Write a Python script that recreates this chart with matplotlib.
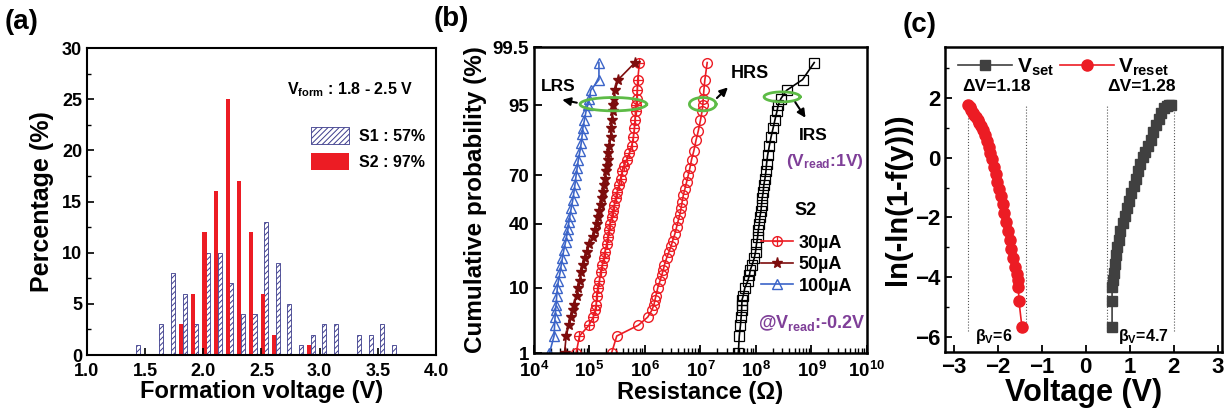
import numpy as np
import matplotlib
matplotlib.use('Agg')
import matplotlib.pyplot as plt
from matplotlib.ticker import MultipleLocator, FixedLocator, LogLocator, NullFormatter
from matplotlib.legend_handler import HandlerTuple
from statistics import NormalDist

plt.rcParams['font.family'] = ['Liberation Sans', 'DejaVu Sans']
plt.rcParams['font.weight'] = 'bold'
plt.rcParams['axes.labelweight'] = 'bold'
plt.rcParams['mathtext.fontset'] = 'custom'
plt.rcParams['mathtext.rm'] = 'Liberation Sans:bold'
plt.rcParams['mathtext.it'] = 'Liberation Sans:bold'
plt.rcParams['mathtext.bf'] = 'Liberation Sans:bold'
plt.rcParams['mathtext.default'] = 'rm'
plt.rcParams['hatch.linewidth'] = 0.7
plt.rcParams['xtick.direction'] = 'in'
plt.rcParams['ytick.direction'] = 'in'

RED = '#ec1c24'
NAVY = '#3c3c8c'
DARKRED = '#7d0c0c'
BLUE = '#3b64c8'
GRAY = '#404040'
GREEN = '#5dbb46'
PURPLE = '#7f3f98'

# ---- (a) 形成电压分布 ----
s1_v = [1.44, 1.64, 1.74, 1.84, 1.94, 2.04, 2.14, 2.24, 2.34, 2.44, 2.54, 2.64, 2.74,
        2.84, 2.94, 3.04, 3.14, 3.34, 3.44, 3.54, 3.64]
s1_pct = [1, 3, 8, 6, 3, 10, 10, 7, 4, 4, 13, 9, 5, 1, 2, 3, 3, 2, 2, 3, 1]
s2_v = [1.81, 1.91, 2.01, 2.11, 2.21, 2.31, 2.41, 2.51, 2.61, 2.91]
s2_pct = [3, 6, 12, 16, 25, 17, 12, 6, 2, 1]

# ---- (b) 累积概率 ----
p_100 = [1, 2, 3, 4, 5, 6, 8, 10, 12, 15, 18, 21, 25, 29, 33, 37, 41, 45, 50, 55, 60,
         65, 70, 74, 78, 82, 85, 88, 90, 92, 94, 95, 96, 97, 98, 99]
r_100 = [1.9e4, 2.3e4, 2.35e4, 2.4e4, 2.45e4, 2.5e4, 2.57e4, 2.63e4, 2.75e4, 2.95e4, 3.1e4,
         3.25e4, 3.45e4, 3.7e4, 3.9e4, 4.1e4, 4.25e4, 4.45e4, 4.7e4, 5.0e4, 5.25e4, 5.5e4,
         5.75e4, 6.0e4, 6.3e4, 6.75e4, 7.1e4, 7.4e4, 7.6e4, 8.1e4, 8.7e4, 9.3e4, 1.0e5,
         1.05e5, 1.48e5, 1.48e5]

p_50 = [1, 2, 3, 4, 5, 6, 8, 10, 12, 15, 18, 21, 24, 28, 32, 36, 40, 44, 48, 52, 56, 60,
        64, 68, 72, 75, 78, 81, 84, 87, 90, 92, 94, 95, 96, 97, 98, 99]
r_50 = [3.55e4, 3.8e4, 4.25e4, 4.7e4, 5.0e4, 5.25e4, 5.9e4, 6.3e4, 6.75e4, 7.1e4, 7.75e4,
        8.3e4, 8.9e4, 1.0e5, 1.15e5, 1.26e5, 1.35e5, 1.45e5, 1.51e5, 1.58e5, 1.66e5, 1.74e5,
        1.82e5, 1.9e5, 2.0e5, 2.04e5, 2.14e5, 2.19e5, 2.29e5, 2.4e5, 2.45e5, 2.51e5, 2.63e5,
        2.69e5, 2.75e5, 2.88e5, 3.3e5, 6.6e5]

p_30 = [1, 2, 3, 4, 5, 6, 8, 10, 12, 15, 18, 21, 24, 28, 32, 36, 40, 44, 48, 52, 56, 60,
        64, 68, 72, 75, 78, 81, 84, 87, 90, 92, 94, 95, 96, 97, 98, 99]
r_30 = [5.75e4, 6.6e4, 9.8e4, 1.17e5, 1.26e5, 1.32e5, 1.35e5, 1.41e5, 1.51e5, 1.58e5, 1.7e5,
        1.82e5, 1.9e5, 2.04e5, 2.14e5, 2.24e5, 2.34e5, 2.51e5, 2.63e5, 2.82e5, 2.95e5, 3.16e5,
        3.39e5, 3.63e5, 3.89e5, 4.17e5, 4.68e5, 5.25e5, 5.75e5, 6.17e5, 6.46e5, 6.6e5, 6.76e5,
        6.9e5, 7.1e5, 7.25e5, 7.4e5, 7.95e5]

p_hrs = [1, 2, 3, 4, 5, 6, 7, 8, 10, 12, 14, 16, 18, 21, 24, 27, 30, 34, 38, 42, 46, 50,
         54, 58, 62, 66, 70, 74, 78, 82, 86, 89, 92, 94, 95, 96, 97, 98, 99]
r_hrs = [2.5e5, 3.1e5, 7.6e5, 1.12e6, 1.32e6, 1.45e6, 1.51e6, 1.58e6, 1.7e6, 1.86e6, 2.0e6,
         2.14e6, 2.24e6, 2.45e6, 2.7e6, 2.95e6, 3.16e6, 3.47e6, 3.72e6, 3.98e6, 4.27e6,
         4.47e6, 4.68e6, 4.9e6, 5.25e6, 5.62e6, 6.03e6, 6.46e6, 6.9e6, 7.6e6, 8.3e6, 9.1e6,
         1.0e7, 1.07e7, 1.1e7, 1.12e7, 1.15e7, 1.2e7, 1.32e7]

p_irs = [1, 2, 3, 4, 5, 6, 7, 8, 10, 12, 14, 16, 18, 21, 24, 28, 32, 36, 40, 44, 48, 52,
         56, 60, 64, 68, 72, 76, 80, 84, 87, 90, 92, 94, 95, 96, 97, 98, 99]
r_irs = [4.8e7, 5.0e7, 5.25e7, 5.4e7, 5.5e7, 5.55e7, 5.6e7, 5.9e7, 6.3e7, 7.1e7, 7.6e7,
         7.9e7, 8.5e7, 9.3e7, 9.8e7, 1.02e8, 1.07e8, 1.1e8, 1.15e8, 1.17e8, 1.23e8, 1.26e8,
         1.29e8, 1.35e8, 1.38e8, 1.45e8, 1.51e8, 1.55e8, 1.62e8, 1.74e8, 1.86e8, 2.04e8,
         2.19e8, 2.4e8, 2.51e8, 2.82e8, 3.55e8, 6.9e8, 1.12e9]

prob_ticks = [1, 10, 40, 70, 95, 99.5]

# ---- (c) Weibull ----
reset_v = [-2.68, -2.64, -2.60, -2.57, -2.53, -2.50, -2.46, -2.42, -2.38, -2.33, -2.29,
           -2.25, -2.21, -2.17, -2.13, -2.09, -2.05, -2.01, -1.97, -1.93, -1.89, -1.85,
           -1.81, -1.77, -1.73, -1.69, -1.65, -1.61, -1.57, -1.55, -1.53, -1.52, -1.45]
reset_w = [1.76, 1.70, 1.60, 1.50, 1.42, 1.35, 1.25, 1.15, 1.05, 0.92, 0.75, 0.55, 0.35,
           0.15, -0.05, -0.30, -0.55, -0.80, -1.05, -1.30, -1.55, -1.85, -2.15, -2.45,
           -2.75, -3.05, -3.35, -3.65, -3.90, -4.10, -4.33, -4.78, -5.67]
set_v = [0.60, 0.60, 0.60, 0.62, 0.64, 0.66, 0.69, 0.72, 0.75, 0.79, 0.84, 0.89, 0.94,
         0.99, 1.04, 1.09, 1.14, 1.19, 1.24, 1.30, 1.36, 1.42, 1.48, 1.54, 1.60, 1.66,
         1.72, 1.78, 1.84, 1.90, 1.94]
set_w = [-5.67, -4.78, -4.33, -4.10, -3.85, -3.55, -3.25, -3.00, -2.75, -2.45, -2.20,
         -1.95, -1.70, -1.45, -1.20, -0.95, -0.70, -0.45, -0.20, 0.02, 0.20, 0.40, 0.60,
         0.85, 1.10, 1.30, 1.50, 1.65, 1.74, 1.76, 1.76]
reset_bounds = [-2.68, -1.36]
set_bounds = [0.48, 2.0]

fig = plt.figure(figsize=(12.27, 4.16), dpi=100)

# ================= (a) =================
ax1 = fig.add_axes([0.0709, 0.1466, 0.2844, 0.738])
ax1.bar(s1_v, s1_pct, width=0.035, facecolor='white', edgecolor=NAVY, hatch='//////',
        linewidth=0.6, label='S1 : 57%')
ax1.bar(s2_v, s2_pct, width=0.035, color=RED, label='S2 : 97%')
ax1.set_xlim(1.0, 4.0)
ax1.set_ylim(0, 30)
ax1.xaxis.set_major_locator(MultipleLocator(0.5))
ax1.yaxis.set_major_locator(MultipleLocator(5))
ax1.yaxis.set_minor_locator(MultipleLocator(2.5))
ax1.tick_params(labelsize=13, length=5, width=1.2)
ax1.tick_params(axis='x', pad=6)
ax1.tick_params(which='minor', length=3, width=1)
ax1.set_xlabel('Formation voltage (V)', fontsize=17, labelpad=0)
ax1.set_ylabel('Percentage (%)', fontsize=18, labelpad=6)
for s in ax1.spines.values():
    s.set_linewidth(1.5)
ax1.text(0.573, 0.863, 'V$_{form}$ : 1.8 - 2.5 V', transform=ax1.transAxes,
         fontsize=11.5, va='center')
ax1.legend(loc='upper left', bbox_to_anchor=(0.6, 0.79), frameon=False, fontsize=11.5,
           handlelength=2.4, handleheight=1.3, handletextpad=0.6, labelspacing=0.55)

# ================= (b) =================
nd = NormalDist()


def prob_fwd(p):
    p = np.clip(np.asarray(p, dtype=float) / 100.0, 1e-6, 1 - 1e-6)
    return np.vectorize(nd.inv_cdf, otypes=[float])(p)


def prob_inv(z):
    return np.vectorize(nd.cdf, otypes=[float])(np.asarray(z, dtype=float)) * 100.0


ax2 = fig.add_axes([0.4352, 0.1514, 0.2714, 0.7356])
ax2.set_xscale('log')
ax2.set_yscale('function', functions=(prob_fwd, prob_inv))
ax2.plot(r_hrs, p_hrs, '-o', color=RED, mfc='none', ms=7, mew=1.0, lw=1.2)
l30o, = ax2.plot(r_30, p_30, '-o', color=RED, mfc='none', ms=7, mew=1.0, lw=1.2)
l30p, = ax2.plot(r_30, p_30, '+', color=RED, ms=7, mew=0.9, ls='none')
l50, = ax2.plot(r_50, p_50, '-*', color=DARKRED, mfc=DARKRED, ms=8, lw=1.2)
l100, = ax2.plot(r_100, p_100, '-^', color=BLUE, mfc='none', ms=7, mew=1.0, lw=1.2)
ax2.plot(r_irs, p_irs, '-s', color='black', mfc='none', ms=6.5, mew=0.9, lw=1.2)

# 绿色椭圆 (log R, z 空间里画)
t = np.linspace(0, 2 * np.pi, 200)
for cx, cz, a, b in [(5.43, 1.66, 0.60, 0.107), (7.04, 1.66, 0.24, 0.107),
                     (8.47, 1.777, 0.325, 0.08)]:
    ax2.plot(10 ** (cx + a * np.cos(t)), prob_inv(cz + b * np.sin(t)), color=GREEN, lw=2)

arrow = dict(arrowstyle='-|>', color='black', lw=1.5, mutation_scale=12)
ax2.annotate('', xy=(10 ** 4.46, 95.9), xytext=(10 ** 4.82, 95.3), arrowprops=arrow)
ax2.annotate('', xy=(10 ** 7.53, 97.5), xytext=(10 ** 7.26, 95.8), arrowprops=arrow)
ax2.annotate('', xy=(10 ** 8.92, 92.0), xytext=(10 ** 8.68, 95.8), arrowprops=arrow)
ax2.text(10 ** 4.43, 97.4, 'LRS', fontsize=12.5, ha='center', va='center')
ax2.text(10 ** 7.89, 98.4, 'HRS', fontsize=13, ha='center', va='center')
ax2.text(10 ** 9.04, 87.8, 'IRS', fontsize=12.5, ha='center', va='center')
ax2.text(0.99, 0.625, '(V$_{read}$:1V)', transform=ax2.transAxes, fontsize=12.5,
         color=PURPLE, ha='right', va='center')
ax2.text(0.815, 0.465, 'S2', transform=ax2.transAxes, fontsize=13, ha='center', va='center')
ax2.text(0.995, 0.098, '@V$_{read}$:-0.2V', transform=ax2.transAxes, fontsize=13,
         color=PURPLE, ha='right', va='center')
ax2.legend([(l30o, l30p), l50, l100], ['30\u00b5A', '50\u00b5A', '100\u00b5A'],
           handler_map={tuple: HandlerTuple(ndivide=1)}, loc='upper left',
           bbox_to_anchor=(0.66, 0.41), frameon=False, fontsize=13, handlelength=1.8,
           handletextpad=0.3, labelspacing=0.25, borderaxespad=0)

ax2.set_xlim(1e4, 1e10)
ax2.set_ylim(1, 99.5)
ax2.xaxis.set_major_locator(LogLocator(base=10, numticks=10))
ax2.xaxis.set_minor_locator(LogLocator(base=10, subs=np.arange(2, 10), numticks=20))
ax2.xaxis.set_minor_formatter(NullFormatter())
ax2.yaxis.set_major_locator(FixedLocator(prob_ticks))
ax2.set_yticklabels([f'{v:g}' for v in prob_ticks])
ax2.yaxis.set_minor_locator(FixedLocator([]))
ax2.tick_params(labelsize=13.5, length=6, width=1.3)
ax2.tick_params(axis='x', pad=6)
ax2.tick_params(which='minor', length=3.5, width=1)
ax2.set_xlabel('Resistance (\u03a9)', fontsize=17, labelpad=0)
ax2.set_ylabel('Cumulative probability (%)', fontsize=17.5, labelpad=4)
for s in ax2.spines.values():
    s.set_linewidth(1.8)

# ================= (c) =================
ax3 = fig.add_axes([0.7702, 0.154, 0.2257, 0.733])
for xv in reset_bounds + set_bounds:
    ax3.axvline(xv, ymin=0.07, ymax=0.81, color='#555555', ls=':', lw=0.8)
ls_, = ax3.plot(set_v, set_w, '-s', color=GRAY, ms=7.5, lw=1.2)
lr_, = ax3.plot(reset_v, reset_w, '-o', color=RED, ms=8, lw=1.2)
ax3.set_xlim(-3.2, 3.1)
ax3.set_ylim(-6.5, 3.7)
ax3.xaxis.set_major_locator(MultipleLocator(1))
ax3.yaxis.set_major_locator(MultipleLocator(2))
ax3.yaxis.set_minor_locator(MultipleLocator(1))
ax3.tick_params(labelsize=16, length=5, width=1.3)
ax3.tick_params(which='minor', length=3, width=1)
ax3.set_xlabel('Voltage (V)', fontsize=22, labelpad=0)
ax3.set_ylabel('ln(-ln(1-f(y)))', fontsize=21, labelpad=2)
for s in ax3.spines.values():
    s.set_linewidth(1.8)
ax3.text(-2.04, 2.39, '\u0394V=1.18', fontsize=12.5, ha='center', va='center')
ax3.text(1.26, 2.39, '\u0394V=1.28', fontsize=12.5, ha='center', va='center')
ax3.text(-2.08, -6.0, '\u03b2$_V$=6', fontsize=11.5, ha='center', va='center')
ax3.text(1.3, -6.0, '\u03b2$_V$=4.7', fontsize=11.5, ha='center', va='center')
ax3.legend([ls_, lr_], ['V$_{set}$', 'V$_{reset}$'], loc='upper left',
           bbox_to_anchor=(-0.02, 1.03), ncol=2, frameon=False, fontsize=15,
           handlelength=2.6, handletextpad=0.2, columnspacing=0.3)

fig.text(0.004, 0.978, '(a)', fontsize=20, fontweight='bold', va='top')
fig.text(0.353, 0.985, '(b)', fontsize=20, fontweight='bold', va='top')
fig.text(0.736, 0.972, '(c)', fontsize=20, fontweight='bold', va='top')

fig.savefig('out.png', dpi=100)
